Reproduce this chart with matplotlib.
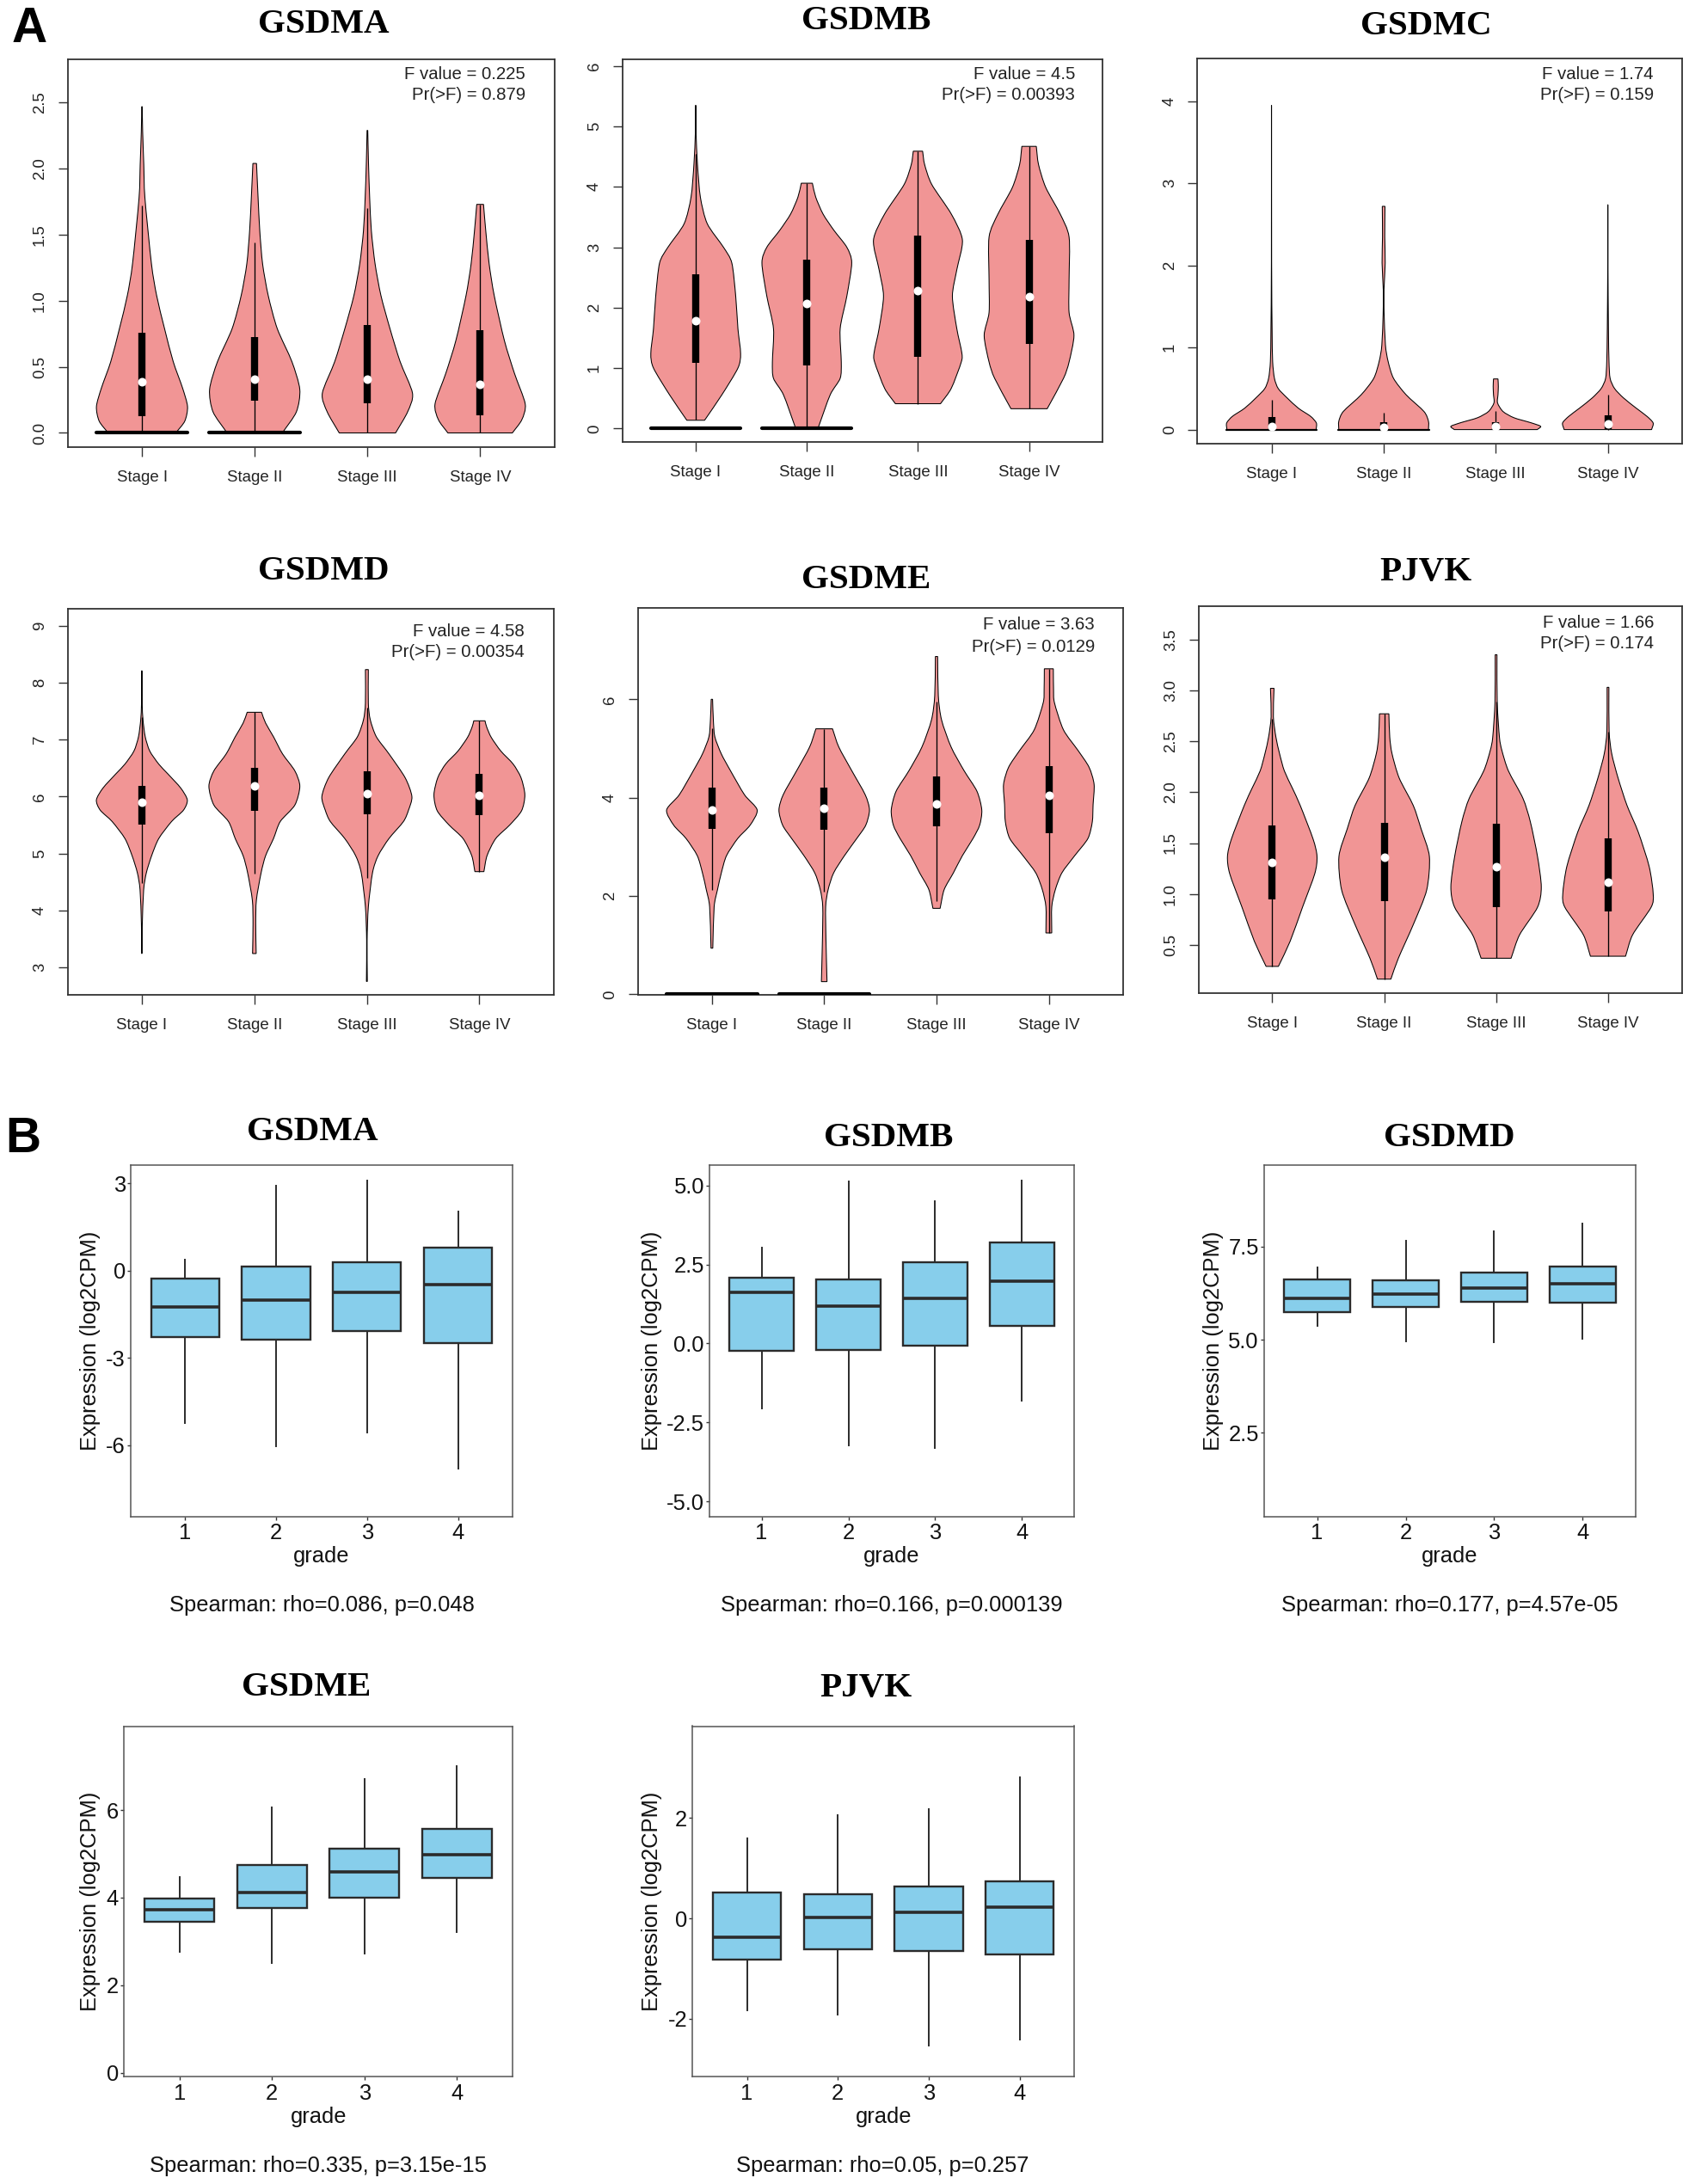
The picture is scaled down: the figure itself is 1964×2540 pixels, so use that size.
import matplotlib
matplotlib.use('Agg')
import matplotlib.pyplot as plt
from matplotlib.path import Path
from matplotlib.patches import PathPatch

W, H = 1965, 2540
plt.rcParams['font.family'] = ['Liberation Sans', 'DejaVu Sans']

stages = ['Stage I', 'Stage II', 'Stage III', 'Stage IV']
grades = ['1', '2', '3', '4']

# violin outlines, value levels and half widths
gsdma_y = [[0, .09, .2, .34, .54, .79, 1.04, 1.28, 1.78, 2.03, 2.28, 2.47],
           [0, .16, .33, .54, .79, 1.04, 1.28, 1.53, 1.78, 2.04],
           [0, .16, .3, .54, .79, 1.04, 1.28, 1.53, 1.78, 2.03, 2.29],
           [0, .1, .22, .45, .7, 1.04, 1.28, 1.53, 1.73]]
gsdma_w = [[.30, .38, .404, .36, .277, .20, .13, .084, .026, .016, .006, .002],
           [.245, .37, .40, .33, .2, .12, .07, .045, .03, .016],
           [.25, .357, .40, .29, .2, .12, .068, .035, .02, .01, .003],
           [.286, .37, .40, .305, .215, .125, .08, .05, .03]]
gsdma_q1 = [.125, .245, .225, .135]
gsdma_med = [.39, .41, .41, .37]
gsdma_q3 = [.76, .725, .815, .775]
gsdma_lo = [0, 0, 0, 0]
gsdma_hi = [1.72, 1.44, 1.70, 1.73]

gsdmb_y = [[.136, .556, 1.0, 1.24, 1.65, 2.19, 2.74, 3.0, 3.39, 3.83, 4.37, 4.9, 5.35],
           [0, .556, .83, 1.1, 1.65, 2.19, 2.74, 3.0, 3.28, 3.55, 3.83, 4.06],
           [.41, .665, 1.1, 1.26, 1.65, 2.19, 2.63, 3.12, 3.55, 4.04, 4.37, 4.59],
           [.327, .83, 1.1, 1.54, 1.92, 2.46, 3.17, 3.55, 3.99, 4.37, 4.67]]
gsdmb_w = [[.08, .235, .38, .404, .38, .36, .325, .25, .104, .042, .016, .003, .001],
           [.10, .21, .30, .31, .30, .36, .404, .36, .244, .146, .08, .05],
           [.203, .30, .39, .394, .35, .31, .35, .40, .30, .124, .06, .042],
           [.163, .31, .36, .404, .36, .36, .36, .28, .15, .085, .065]]
gsdmb_q1 = [1.09, 1.05, 1.18, 1.40]
gsdmb_med = [1.79, 2.07, 2.28, 2.185]
gsdmb_q3 = [2.556, 2.79, 3.19, 3.12]
gsdmb_lo = [.14, 0, .41, .33]
gsdmb_hi = [4.55, 4.06, 4.59, 4.67]

gsdmc_y = [[0, .08, .16, .26, .385, .5, .625, .83, 1.23, 2.03, 3.95],
           [0, .1, .22, .425, .625, .83, 1.03, 1.43, 1.7, 2.03, 2.35, 2.72],
           [0, .04, .085, .144, .22, .325, .425, .525, .617],
           [0, .08, .16, .26, .385, .5, .625, .83, 1.23, 2.03, 2.74]]
gsdmc_w = [[.398, .40, .35, .24, .14, .06, .026, .01, .005, .001, .0005],
           [.40, .40, .36, .2, .088, .04, .016, .004, .003, .014, .01, .012],
           [.37, .40, .31, .163, .065, .016, .02, .023, .02],
           [.39, .404, .35, .254, .14, .06, .02, .01, .005, .001, .0005]]
gsdmc_q1 = [0, 0, 0, .01]
gsdmc_med = [.036, .024, .036, .064]
gsdmc_q3 = [.15, .085, .09, .176]
gsdmc_lo = [0, 0, 0, 0]
gsdmc_hi = [.36, .21, .225, .425]

gsdmd_y = [[3.24, 3.76, 4.36, 4.66, 4.96, 5.26, 5.56, 5.76, 5.94, 6.15, 6.4, 6.57, 6.8, 7.05, 7.35, 7.64, 8.21],
           [3.24, 3.76, 4.18, 4.66, 4.96, 5.26, 5.56, 5.85, 6.18, 6.45, 6.75, 7.05, 7.29, 7.48],
           [2.75, 3.47, 4.06, 4.66, 4.96, 5.26, 5.56, 5.76, 6.0, 6.33, 6.75, 7.05, 7.35, 7.64, 8.23],
           [4.68, 4.96, 5.26, 5.5, 5.75, 6.03, 6.33, 6.57, 6.8, 7.04, 7.22, 7.33]]
gsdmd_w = [[.001, .004, .016, .04, .087, .15, .264, .37, .404, .345, .23, .15, .07, .03, .01, .003, .001],
           [.016, .012, .018, .06, .10, .17, .23, .36, .404, .36, .25, .17, .10, .064],
           [.004, .002, .013, .05, .10, .196, .325, .37, .40, .34, .196, .084, .03, .013, .013],
           [.04, .068, .145, .27, .375, .404, .37, .30, .19, .105, .065, .05]]
gsdmd_q1 = [5.5, 5.75, 5.69, 5.67]
gsdmd_med = [5.9, 6.18, 6.05, 6.02]
gsdmd_q3 = [6.18, 6.51, 6.44, 6.4]
gsdmd_lo = [4.48, 4.64, 4.57, 4.68]
gsdmd_hi = [7.4, 7.48, 7.56, 7.33]

gsdme_y = [[.94, 1.78, 2.13, 2.47, 2.82, 3.17, 3.44, 3.75, 4.06, 4.55, 4.89, 5.24, 5.58, 6.0],
           [.26, 1.09, 1.78, 2.13, 2.47, 2.82, 3.17, 3.44, 3.75, 4.06, 4.55, 5.03, 5.4],
           [1.75, 2.13, 2.47, 2.82, 3.17, 3.44, 3.75, 4.13, 4.55, 5.03, 5.58, 6.07, 6.87],
           [1.25, 1.78, 2.13, 2.47, 2.82, 3.17, 3.51, 3.86, 4.27, 4.62, 4.96, 5.38, 5.93, 6.2, 6.62]]
gsdme_w = [[.008, .02, .05, .084, .13, .23, .34, .403, .29, .165, .084, .026, .013, .006],
           [.025, .016, .013, .035, .084, .18, .29, .37, .403, .365, .245, .13, .074],
           [.032, .068, .15, .23, .325, .384, .403, .36, .245, .13, .045, .016, .01],
           [.026, .026, .058, .116, .23, .348, .387, .394, .403, .358, .26, .13, .05, .042, .04]]
gsdme_q1 = [3.36, 3.35, 3.41, 3.28]
gsdme_med = [3.75, 3.79, 3.87, 4.04]
gsdme_q3 = [4.2, 4.21, 4.43, 4.64]
gsdme_lo = [2.13, 2.09, 1.89, 1.25]
gsdme_hi = [5.41, 5.4, 5.95, 6.62]

pjvk_y = [[.29, .537, .87, 1.2, 1.37, 1.54, 1.87, 2.04, 2.21, 2.38, 2.54, 2.74, 3.02],
          [.165, .37, .7, 1.04, 1.37, 1.64, 1.87, 2.14, 2.38, 2.54, 2.77],
          [.37, .6, .87, 1.07, 1.37, 1.71, 1.94, 2.21, 2.41, 2.54, 2.88, 3.35],
          [.39, .6, .87, 1.0, 1.27, 1.61, 1.87, 2.14, 2.38, 2.6, 3.03]]
pjvk_w = [[.055, .16, .27, .38, .40, .365, .25, .18, .108, .065, .033, .01, .016],
          [.06, .127, .26, .38, .404, .33, .26, .134, .07, .05, .042],
          [.134, .21, .37, .404, .37, .306, .24, .11, .052, .03, .01, .008],
          [.157, .22, .385, .404, .368, .27, .17, .09, .033, .01, .008]]
pjvk_q1 = [.95, .93, .87, .83]
pjvk_med = [1.315, 1.36, 1.27, 1.12]
pjvk_q3 = [1.67, 1.70, 1.69, 1.55]
pjvk_lo = [.29, .165, .37, .39]
pjvk_hi = [2.72, 2.77, 2.89, 2.59]

# boxplots by grade: whisker low, q1, median, q3, whisker high
ga_lo = [-5.25, -6.04, -5.56, -6.82]
ga_q1 = [-2.28, -2.38, -2.08, -2.48]
ga_med = [-1.26, -1.01, -.74, -.48]
ga_q3 = [-.27, .13, .29, .785]
ga_hi = [.37, 2.91, 3.08, 2.03]

gb_lo = [-2.06, -3.23, -3.31, -1.81]
gb_q1 = [-.244, -.2, -.08, .556]
gb_med = [1.62, 1.19, 1.42, 1.96]
gb_q3 = [2.08, 2.03, 2.56, 3.2]
gb_hi = [3.04, 5.12, 4.5, 5.14]

gd_lo = [5.38, 4.95, 4.93, 5.02]
gd_q1 = [5.745, 5.87, 6.02, 6.0]
gd_med = [6.12, 6.22, 6.39, 6.5]
gd_q3 = [6.61, 6.59, 6.8, 6.97]
gd_hi = [6.94, 7.65, 7.9, 8.11]

ge_lo = [2.76, 2.51, 2.72, 3.22]
ge_q1 = [3.44, 3.76, 3.99, 4.46]
ge_med = [3.72, 4.11, 4.59, 4.98]
ge_q3 = [3.98, 4.74, 5.12, 5.57]
ge_hi = [4.48, 6.07, 6.71, 7.0]

gp_lo = [-1.83, -1.92, -2.53, -2.41]
gp_q1 = [-.825, -.61, -.65, -.71]
gp_med = [-.37, .014, .12, .23]
gp_q3 = [.517, .475, .63, .74]
gp_hi = [1.59, 2.06, 2.17, 2.8]


def px_axes(fig, left, right, top, bottom):
    return fig.add_axes([left / W, 1 - bottom / H, (right - left) / W, (bottom - top) / H])


def put(fig, x, y, s, **kw):
    kw.setdefault('ha', 'center')
    kw.setdefault('va', 'center')
    fig.text(x / W, 1 - y / H, s, **kw)


def violin_path(ys, ws):
    # smooth right side through the read points, mirrored for the left side
    n = len(ys)
    pts = list(zip(ws, ys))
    tan = []
    for i in range(n):
        a = pts[max(i - 1, 0)]
        b = pts[min(i + 1, n - 1)]
        k = 0.5 if 0 < i < n - 1 else 1.0
        tan.append(((b[0] - a[0]) * k * 0.8, (b[1] - a[1]) * k * 0.8))
    right = [pts[0]]
    for i in range(n - 1):
        c1 = (pts[i][0] + tan[i][0] / 3, pts[i][1] + tan[i][1] / 3)
        c2 = (pts[i + 1][0] - tan[i + 1][0] / 3, pts[i + 1][1] - tan[i + 1][1] / 3)
        right += [c1, c2, pts[i + 1]]
    return right


def draw_violin(ax, pos, ys, ws):
    right = violin_path(ys, ws)
    verts = [(pos + max(x, 0), y) for x, y in right]
    codes = [Path.MOVETO] + [Path.CURVE4] * (len(right) - 1)
    verts.append((pos - right[-1][0], right[-1][1]))
    codes.append(Path.LINETO)
    verts += [(pos - max(x, 0), y) for x, y in right[-2::-1]]
    codes += [Path.CURVE4] * (len(right) - 1)
    verts.append(verts[0])
    codes.append(Path.CLOSEPOLY)
    ax.add_patch(PathPatch(Path(verts, codes), facecolor='#F19595', edgecolor='black',
                           linewidth=0.75, zorder=2))


def violin_panel(fig, box, ylim, ticks, ticklabels, ys, ws, q1, med, q3, lo, hi, zeros, zero_lw=3.0):
    ax = px_axes(fig, *box)
    pos = [1, 2, 3, 4]
    for i in pos:
        draw_violin(ax, i, ys[i - 1], ws[i - 1])
    ax.vlines(pos, lo, hi, color='black', linewidth=0.95, zorder=3)
    ax.vlines(pos, q1, q3, color='black', linewidth=6, capstyle='butt', zorder=4)
    ax.plot(pos, med, 'o', color='white', markersize=7.2, markeredgewidth=0, zorder=5)
    for i in zeros:
        ax.hlines(0, i - .404, i + .404, color='black', linewidth=zero_lw, capstyle='round', zorder=4)
    ax.set_xlim(.34, 4.66)
    ax.set_ylim(*ylim)
    ax.set_xticks(pos)
    ax.set_xticklabels(stages, fontsize=13.4, color='#222222')
    ax.set_yticks(ticks)
    ax.set_yticklabels(ticklabels, fontsize=13.4, rotation=90, va='center', color='#222222')
    ax.tick_params(axis='x', length=8, width=1, color='#333333', pad=11.5)
    ax.tick_params(axis='y', length=8, width=1, color='#333333', pad=9)
    for s in ax.spines.values():
        s.set_linewidth(1.3)
        s.set_color('#333333')
    return ax


def box_panel(fig, box, ylim, ticks, ticklabels, lo, q1, med, q3, hi, ylab_off, xlim=(.402, 4.6)):
    ax = px_axes(fig, *box)
    stats = [dict(whislo=lo[i], q1=q1[i], med=med[i], q3=q3[i], whishi=hi[i], fliers=[]) for i in range(4)]
    ax.bxp(stats, positions=[1, 2, 3, 4], widths=.75, patch_artist=True, showcaps=False, showfliers=False,
           boxprops=dict(facecolor='#87CEEB', edgecolor='#2b2b2b', linewidth=1.7),
           medianprops=dict(color='#2b2b2b', linewidth=2.6, solid_capstyle='butt'),
           whiskerprops=dict(color='#2b2b2b', linewidth=1.4))
    ax.set_xlim(*xlim)
    ax.set_ylim(*ylim)
    ax.set_xticks([1, 2, 3, 4])
    ax.set_xticklabels(grades, fontsize=18.4, color='#111111')
    ax.set_yticks(ticks)
    ax.set_yticklabels(ticklabels, fontsize=18.4, color='#111111')
    ax.tick_params(axis='both', length=3, width=1, color='#333333')
    ax.tick_params(axis='x', pad=2.5)
    ax.tick_params(axis='y', pad=1.5)
    ax.set_xlabel('grade', fontsize=18.4, color='#111111', labelpad=2)
    ax.set_ylabel('Expression (log2CPM)', fontsize=18.4, color='#111111', va='center')
    ax.yaxis.set_label_coords(-ylab_off / (box[1] - box[0]), .5)
    for s in ax.spines.values():
        s.set_linewidth(1.1)
        s.set_color('#555555')
    return ax


fig = plt.figure(figsize=(W / 100, H / 100), dpi=100, facecolor='white')

violin_panel(fig, (78.6, 644.8, 68.7, 520.4), (-.11, 2.83), [0, .5, 1, 1.5, 2, 2.5], ['0.0', '0.5', '1.0', '1.5', '2.0', '2.5'],
             gsdma_y, gsdma_w, gsdma_q1, gsdma_med, gsdma_q3, gsdma_lo, gsdma_hi, [1, 2])
violin_panel(fig, (723.7, 1281.9, 68.7, 514.4), (-.229, 6.115), [0, 1, 2, 3, 4, 5, 6], ['0', '1', '2', '3', '4', '5', '6'],
             gsdmb_y, gsdmb_w, gsdmb_q1, gsdmb_med, gsdmb_q3, gsdmb_lo, gsdmb_hi, [1, 2])
violin_panel(fig, (1392.5, 1955.7, 67.7, 516.4), (-.176, 4.525), [0, 1, 2, 3, 4], ['0', '1', '2', '3', '4'],
             gsdmc_y, gsdmc_w, gsdmc_q1, gsdmc_med, gsdmc_q3, gsdmc_lo, gsdmc_hi, [1, 2], zero_lw=1.6)
violin_panel(fig, (78.6, 643.8, 707.6, 1157.3), (2.51, 9.305), [3, 4, 5, 6, 7, 8, 9], ['3', '4', '5', '6', '7', '8', '9'],
             gsdmd_y, gsdmd_w, gsdmd_q1, gsdmd_med, gsdmd_q3, gsdmd_lo, gsdmd_hi, [])
violin_panel(fig, (741.6, 1305.8, 706.6, 1157.3), (-.014, 7.865), [0, 2, 4, 6], ['0', '2', '4', '6'],
             gsdme_y, gsdme_w, gsdme_q1, gsdme_med, gsdme_q3, gsdme_lo, gsdme_hi, [1, 2])
violin_panel(fig, (1393.5, 1955.7, 704.6, 1155.3), (.025, 3.83), [.5, 1, 1.5, 2, 2.5, 3, 3.5], ['0.5', '1.0', '1.5', '2.0', '2.5', '3.0', '3.5'],
             pjvk_y, pjvk_w, pjvk_q1, pjvk_med, pjvk_q3, pjvk_lo, pjvk_hi, [])

box_panel(fig, (152.2, 596, 1354.5, 1763.5), (-8.45, 3.64), [-6, -3, 0, 3], ['-6', '-3', '0', '3'],
          ga_lo, ga_q1, ga_med, ga_q3, ga_hi, 47)
box_panel(fig, (825.2, 1249, 1354.5, 1763.5), (-5.467, 5.655), [-5, -2.5, 0, 2.5, 5], ['-5.0', '-2.5', '0.0', '2.5', '5.0'],
          gb_lo, gb_q1, gb_med, gb_q3, gb_hi, 67)
box_panel(fig, (1470.1, 1902, 1354.5, 1763.5), (.255, 9.7), [2.5, 5, 7.5], ['2.5', '5.0', '7.5'],
          gd_lo, gd_q1, gd_med, gd_q3, gd_hi, 59)
box_panel(fig, (144.3, 596, 2007.5, 2415.4), (-.096, 7.92), [0, 2, 4, 6], ['0', '2', '4', '6'],
          ge_lo, ge_q1, ge_med, ge_q3, ge_hi, 39)
box_panel(fig, (805.3, 1249, 2007.5, 2415.4), (-3.154, 3.825), [-2, 0, 2], ['-2', '0', '2'],
          gp_lo, gp_q1, gp_med, gp_q3, gp_hi, 47)

titles = [('GSDMA', 376, 29), ('GSDMB', 1007, 25), ('GSDMC', 1658, 31),
          ('GSDMD', 376, 665), ('GSDME', 1007, 675), ('PJVK', 1658, 665),
          ('GSDMA', 363, 1316), ('GSDMB', 1033, 1323), ('GSDMD', 1685, 1323),
          ('GSDME', 356, 1963), ('PJVK', 1007, 1963)]
for s, x, y in titles:
    put(fig, x, y, s, fontsize=29.5, fontweight='bold', family=['Liberation Serif', 'DejaVu Serif'])

put(fig, 34, 34, 'A', fontsize=41, fontweight='bold')
put(fig, 27, 1325, 'B', fontsize=41, fontweight='bold')

f_texts = [('F value = 0.225', 'Pr(>F) = 0.879', 611, 86, 111),
           ('F value = 4.5', 'Pr(>F) = 0.00393', 1250, 86, 111),
           ('F value = 1.74', 'Pr(>F) = 0.159', 1923, 86, 111),
           ('F value = 4.58', 'Pr(>F) = 0.00354', 610, 734, 759),
           ('F value = 3.63', 'Pr(>F) = 0.0129', 1273, 726, 752),
           ('F value = 1.66', 'Pr(>F) = 0.174', 1923, 724, 749)]
for a, b, x, y1, y2 in f_texts:
    put(fig, x, y1, a, fontsize=14.7, ha='right', color='#222222')
    put(fig, x, y2, b, fontsize=14.7, ha='right', color='#222222')

spearman = [('Spearman: rho=0.086, p=0.048', 374, 1867),
            ('Spearman: rho=0.166, p=0.000139', 1037, 1867),
            ('Spearman: rho=0.177, p=4.57e-05', 1686, 1867),
            ('Spearman: rho=0.335, p=3.15e-15', 370, 2519),
            ('Spearman: rho=0.05, p=0.257', 1026, 2519)]
for s, x, y in spearman:
    put(fig, x, y, s, fontsize=18.4, color='#111111')

fig.savefig('out.png', dpi=100)
